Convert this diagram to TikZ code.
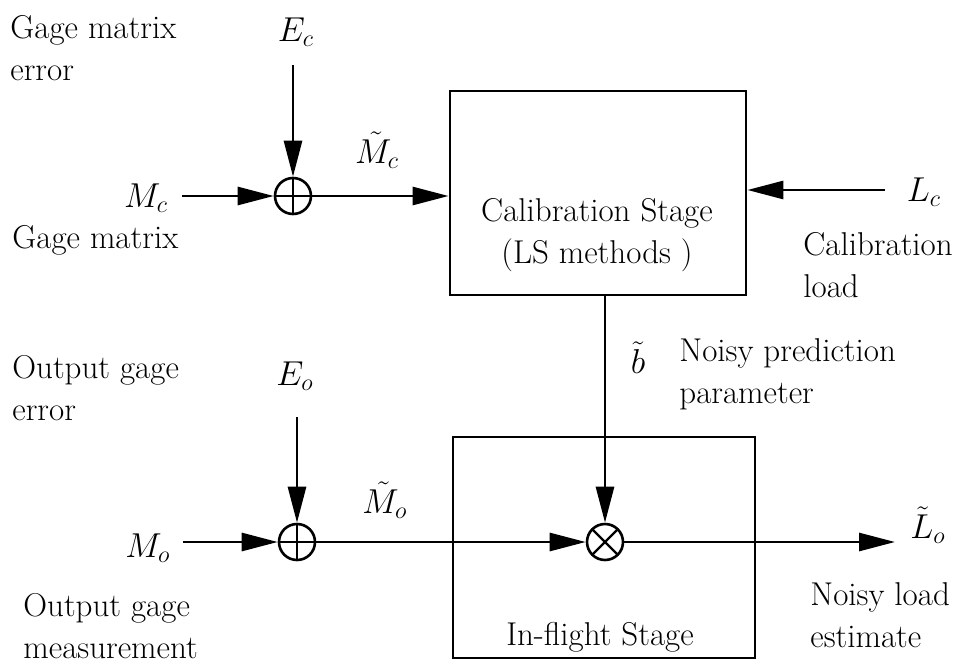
\documentclass[tikz,border=0pt]{standalone}
\usepackage{tikz}
\usetikzlibrary{arrows.meta, positioning}

\begin{document}
\begin{tikzpicture}[
  x=0.5pt, y=-0.5pt,
  stage/.style={rectangle, draw, line width=1.4pt, inner sep=0pt},
  junction/.style={circle, draw, line width=1.3pt, minimum size=18pt, inner sep=0pt},
  addnode/.style={junction, path picture={\draw[line width=1.1pt]
      (path picture bounding box.north) -- (path picture bounding box.south)
      (path picture bounding box.west) -- (path picture bounding box.east);}},
  mulnode/.style={junction, path picture={\draw[line width=1.1pt]
      (path picture bounding box.north west) -- (path picture bounding box.south east)
      (path picture bounding box.north east) -- (path picture bounding box.south west);}},
  sig/.style={inner sep=0pt, font=\fontsize{17}{21}\selectfont},
  txt/.style={inner sep=0pt, align=left, anchor=base west, font=\fontsize{16.5}{21}\selectfont},
  line/.style={-{Triangle[length=18pt, width=9pt]}, line width=1.4pt}
]
  \useasboundingbox (0,0) rectangle (963,664);

  \node[stage, minimum width=148pt, minimum height=102pt]   (calib)    at (598,193) {};
  \node[stage, minimum width=151pt, minimum height=110.5pt] (inflight) at (604,547.5) {};
  \node[addnode] (sumc) at (293,196) {};
  \node[addnode] (sumo) at (297,542) {};
  \node[mulnode] (prod) at (605,542) {};

  \node[sig] (Ec)  at (296,32)  {$E_c$};
  \node[sig] (Mc)  at (146,198) {$M_c$};
  \node[sig] (Mct) at (377,150) {$\tilde{M}_c$};
  \node[sig] (Lc)  at (924,192) {$L_c$};
  \node[sig] (bt)  at (638,358) {$\tilde{b}$};
  \node[sig] (Eo)  at (295,376) {$E_o$};
  \node[sig] (Mo)  at (148,548) {$M_o$};
  \node[sig] (Mot) at (385,500) {$\tilde{M}_o$};
  \node[sig] (Lot) at (928,525) {$\tilde{L}_o$};

  \node[txt] (gmerr)     at (10,80)   {Gage matrix\\error};
  \node[txt] (gm)        at (12,248)  {Gage matrix};
  \node[txt] (calload)   at (803,297) {Calibration\\load};
  \node[txt] (noisypar)  at (679,403) {Noisy prediction\\parameter};
  \node[txt] (ogerr)     at (12,420)  {Output gage\\error};
  \node[txt] (ogmeas)    at (23,658)  {Output gage\\measurement};
  \node[txt] (noisyload) at (810,647) {Noisy load\\estimate};
  \node[txt, align=center, anchor=base] (calibtxt)  at (597,263) {Calibration Stage\\(LS methods )};
  \node[txt, anchor=base]               (flighttxt) at (600,645) {In-flight Stage};

  \coordinate (ecin)  at (293,65);
  \coordinate (mcin)  at (182,196);
  \coordinate (lcin)  at (885,190);
  \coordinate (eoin)  at (297,417);
  \coordinate (moin)  at (183,542);
  \coordinate (loout) at (895,542);

  \draw[line] (ecin) -- (sumc);
  \draw[line] (mcin) -- (sumc);
  \draw[line] (sumc) -- (sumc -| calib.west);
  \draw[line] (lcin) -- (lcin -| calib.east);
  \draw[line] (prod |- calib.south) -- (prod);
  \draw[line] (eoin) -- (sumo);
  \draw[line] (moin) -- (sumo);
  \draw[line] (sumo) -- (prod);
  \draw[line] (prod) -- (loout);

\end{tikzpicture}
\end{document}
